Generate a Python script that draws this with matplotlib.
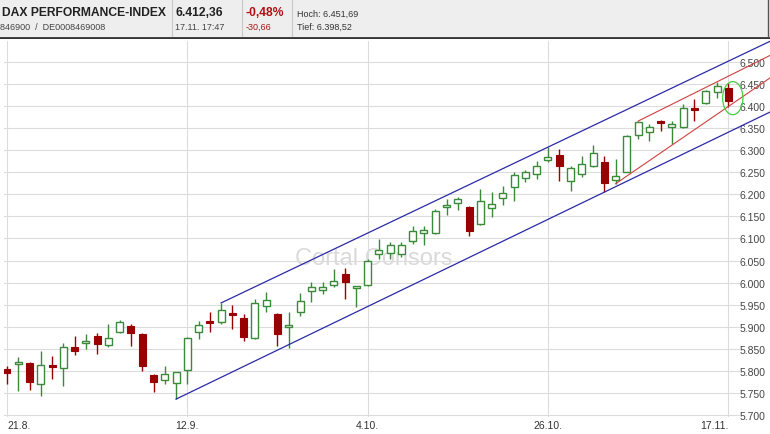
import matplotlib.pyplot as plt
from matplotlib.patches import Ellipse
import numpy as np

plt.rcParams['font.family'] = ['Liberation Sans', 'DejaVu Sans']

# 1. chart data (DAX daily candles, 21.8. - 17.11.)
opens = [5804, 5815, 5818, 5770, 5813, 5807, 5854, 5863, 5879, 5859,
         5888, 5902, 5884, 5791, 5779, 5773, 5802, 5888, 5913, 5911,
         5931, 5920, 5875, 5947, 5929, 5900, 5933, 5981, 5983, 5995,
         6020, 5988, 5995, 6065, 6067, 6065, 6094, 6112, 6112, 6171,
         6180, 6171, 6133, 6169, 6192, 6217, 6237, 6246, 6278, 6289,
         6230, 6246, 6264, 6273, 6233, 6251, 6335, 6341, 6366, 6353,
         6353, 6396, 6407, 6432, 6442]
highs = [5811, 5832, 5820, 5845, 5834, 5863, 5879, 5884, 5886, 5906,
         5915, 5906, 5886, 5793, 5811, 5798, 5877, 5913, 5933, 5954,
         5949, 5929, 5963, 5979, 5931, 5933, 5977, 6001, 6001, 6031,
         6033, 5992, 6054, 6099, 6092, 6092, 6128, 6128, 6167, 6190,
         6194, 6173, 6212, 6205, 6219, 6251, 6255, 6276, 6307, 6303,
         6264, 6287, 6312, 6287, 6280, 6334, 6366, 6360, 6369, 6366,
         6405, 6416, 6437, 6455, 6452]
lows = [5770, 5754, 5757, 5743, 5782, 5766, 5836, 5850, 5838, 5854,
        5886, 5856, 5800, 5752, 5770, 5736, 5770, 5872, 5888, 5906,
        5895, 5868, 5872, 5933, 5856, 5852, 5924, 5956, 5974, 5990,
        5963, 5945, 5993, 6054, 6054, 6058, 6088, 6085, 6110, 6153,
        6165, 6106, 6131, 6149, 6176, 6185, 6228, 6235, 6273, 6230,
        6208, 6239, 6262, 6205, 6224, 6250, 6326, 6321, 6344, 6314,
        6351, 6366, 6405, 6418, 6399]
closes = [5795, 5820, 5775, 5813, 5808, 5854, 5845, 5868, 5861, 5875,
          5911, 5886, 5811, 5775, 5793, 5798, 5875, 5904, 5909, 5938,
          5927, 5877, 5954, 5961, 5884, 5904, 5958, 5990, 5990, 6004,
          6001, 5992, 6049, 6074, 6085, 6085, 6117, 6119, 6162, 6176,
          6190, 6117, 6185, 6178, 6203, 6244, 6251, 6264, 6285, 6264,
          6260, 6269, 6294, 6226, 6242, 6332, 6364, 6353, 6362, 6360,
          6396, 6391, 6434, 6446, 6412]

date_pos = [0, 16, 32, 48, 64]
date_labels = ['21.8.', '12.9.', '4.10.', '26.10.', '17.11.']
y_ticks = [5700, 5750, 5800, 5850, 5900, 5950, 6000, 6050, 6100,
           6150, 6200, 6250, 6300, 6350, 6400, 6450, 6500]

# trend lines: anchored on candle indices (high / low points)
channel_top = (19, 48)
channel_bottom = (15, 53)
wedge_top = (56, 63)
wedge_bottom = (54, 64)

GREEN = '#3a8a3a'
RED = '#990000'
BLUE = '#2a2aa8'
LINE_RED = '#d04040'

# 2. figure
fig = plt.figure(figsize=(7.7, 4.35), dpi=100)
W, H = 770, 435

ax = fig.add_axes([4 / W, (H - 418) / H, (740 - 4) / W, (418 - 42) / H])
x_left = (4 - 7) / 11.27
x_right = (740 - 7) / 11.27
x_edge = (770 - 7) / 11.27
ax.set_xlim(x_left, x_right)
ax.set_ylim(5695.5, 6547.5)

for s in ax.spines.values():
    s.set_visible(False)

ax.set_yticks(y_ticks)
ax.set_yticklabels(['{:,}'.format(v).replace(',', '.') for v in y_ticks],
                   fontsize=7.5, color='#444444')
ax.yaxis.tick_right()
ax.tick_params(axis='y', length=0, pad=0)
ax.set_xticks(date_pos)
ax.set_xticklabels(date_labels, fontsize=7.5, color='#333333')
ax.tick_params(axis='x', length=0, pad=2)
xl = ax.get_xticklabels()
xl[0].set_horizontalalignment('left')
xl[-1].set_horizontalalignment('right')
ax.grid(True, color='#dcdcdc', linewidth=0.8)
ax.set_axisbelow(True)

# watermark
ax.text(32.5, 6055, 'Cortal Consors', fontsize=17, color='#dadada',
        ha='center', va='center', zorder=0.5)

# 3. candles
x = np.arange(len(opens))
o = np.array(opens, float)
c = np.array(closes, float)
up = c >= o
bottoms = np.minimum(o, c)
heights = np.maximum(np.abs(c - o), 4)
cols = np.where(up, GREEN, RED)

ax.vlines(x, lows, highs, colors=cols, linewidth=1.0, zorder=2)
ax.bar(x[up], heights[up], bottom=bottoms[up], width=0.62,
       facecolor='white', edgecolor=GREEN, linewidth=1.0, zorder=3)
ax.bar(x[~up], heights[~up], bottom=bottoms[~up], width=0.62,
       facecolor=RED, edgecolor=RED, linewidth=0.8, zorder=3)


# 4. trend lines
def trend(i0, i1, vals, color, lw=0.9):
    slope = (vals[i1] - vals[i0]) / (i1 - i0)
    xs = np.array([i0, x_edge])
    ax.plot(xs, vals[i0] + slope * (xs - i0), color=color, linewidth=lw,
            clip_on=False, zorder=4)


trend(*channel_top, highs, BLUE)
trend(*channel_bottom, lows, BLUE)
trend(*wedge_top, highs, LINE_RED, 0.8)
trend(*wedge_bottom, lows, LINE_RED, 0.8)

ax.add_patch(Ellipse((64.4, 6418), 1.8, 75, fill=False,
                     edgecolor='#44cc44', linewidth=0.9, zorder=5,
                     clip_on=False))

# 5. header strip
hd = fig.add_axes([0, (H - 40) / H, 1, 40 / H])
hd.set_xlim(0, W)
hd.set_ylim(40, 0)
hd.axis('off')
hd.add_patch(plt.Rectangle((0, 0), W, 40, color='#eeeeee', zorder=0))
hd.plot([0, W], [38.5, 38.5], color='#333333', linewidth=2)
for sx in [172, 242, 292]:
    hd.plot([sx, sx], [0, 37], color='#c8c8c8', linewidth=0.8)
hd.plot([768, 768], [0, 38], color='#555555', linewidth=1)

hd.text(2, 13, 'DAX PERFORMANCE-INDEX', fontsize=8.7, fontweight='bold',
        color='#222222', va='center')
hd.text(0, 27, '846900  /  DE0008469008', fontsize=6.5, color='#444444',
        va='center')
hd.text(175, 13, '6.412,36', fontsize=8.7, fontweight='bold',
        color='#222222', va='center')
hd.text(175, 27, '17.11. 17:47', fontsize=6.5, color='#444444', va='center')
hd.text(246, 13, '-0,48%', fontsize=8.7, fontweight='bold',
        color='#b01010', va='center')
hd.text(246, 27, '-30,66', fontsize=6.5, color='#b01010', va='center')
hd.text(297, 14, 'Hoch: 6.451,69', fontsize=6.5, color='#333333',
        va='center')
hd.text(297, 27, 'Tief: 6.398,52', fontsize=6.5, color='#333333',
        va='center')

fig.savefig('out.png', dpi=100, facecolor='white')
